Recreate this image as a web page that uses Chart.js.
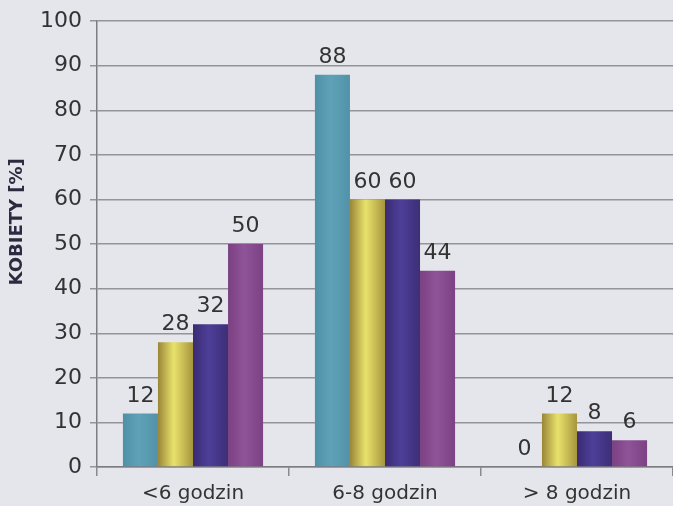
<!DOCTYPE html>
<html>
<head>
<meta charset="utf-8">
<script src="https://cdn.jsdelivr.net/npm/chart.js@4/dist/chart.umd.min.js"></script>
<style>
  html, body { margin: 0; padding: 0; background: #e5e6ec; }
  #wrap { width: 673px; height: 506px; }
</style>
</head>
<body>
<div id="wrap"><canvas id="c" width="673" height="506"></canvas></div>
<script>
// Sleep duration groups and the share of women in each group, per series
const categories = ['<6 godzin', '6-8 godzin', '> 8 godzin'];
const seriesA = [12, 88, 0];
const seriesB = [28, 60, 12];
const seriesC = [32, 60, 8];
const seriesD = [50, 44, 6];
const yTicks = [0, 10, 20, 30, 40, 50, 60, 70, 80, 90, 100];
const yTitle = 'KOBIETY [%]';

// Colour stops across each bar: edge, centre, edge
const barShades = [
  ['#4f90a6', '#5fa2b7', '#5192a8'],
  ['#9a8636', '#e8e26c', '#a8953c'],
  ['#3a2b72', '#4d3f98', '#3d2e76'],
  ['#7a4082', '#8f5397', '#7c4284']
];

const FONT = '"DejaVu Sans", Verdana, sans-serif';

const canvasBg = {
  id: 'canvasBg',
  beforeDraw(chart) {
    const ctx = chart.ctx;
    ctx.save();
    ctx.fillStyle = '#e5e6ec';
    ctx.fillRect(0, 0, chart.width, chart.height);
    ctx.restore();
  }
};

// Horizontal shading on every bar, built once bar geometry is known
const barGradients = {
  id: 'barGradients',
  beforeDatasetsDraw(chart) {
    const ctx = chart.ctx;
    chart.data.datasets.forEach((ds, i) => {
      const shades = barShades[i];
      chart.getDatasetMeta(i).data.forEach(bar => {
        const x0 = bar.x - bar.width / 2, x1 = bar.x + bar.width / 2;
        const g = ctx.createLinearGradient(x0, 0, x1, 0);
        g.addColorStop(0, shades[0]);
        g.addColorStop(0.45, shades[1]);
        g.addColorStop(1, shades[2]);
        bar.options = Object.assign({}, bar.options, { backgroundColor: g });
      });
    });
  }
};

const valueLabels = {
  id: 'valueLabels',
  afterDatasetsDraw(chart) {
    const ctx = chart.ctx;
    ctx.save();
    ctx.font = '22px ' + FONT;
    ctx.fillStyle = '#333333';
    ctx.textAlign = 'center';
    ctx.textBaseline = 'alphabetic';
    chart.data.datasets.forEach((ds, i) => {
      chart.getDatasetMeta(i).data.forEach((bar, j) => {
        ctx.fillText(String(ds.data[j]), bar.x, bar.y - 12);
      });
    });
    ctx.restore();
  }
};

// Vertical axis title, set a little above the middle of the plot
const axisTitle = {
  id: 'axisTitle',
  afterDraw(chart) {
    const ctx = chart.ctx;
    const area = chart.chartArea;
    ctx.save();
    ctx.translate(17, area.top + (area.bottom - area.top) * 0.45);
    ctx.rotate(-Math.PI / 2);
    ctx.font = 'bold 18px ' + FONT;
    ctx.fillStyle = '#2b2b40';
    ctx.textAlign = 'center';
    ctx.textBaseline = 'middle';
    ctx.fillText(yTitle, 0, 0);
    ctx.restore();
  }
};

new Chart(document.getElementById('c'), {
  type: 'bar',
  data: {
    labels: categories,
    datasets: [seriesA, seriesB, seriesC, seriesD].map((values, i) => ({
      label: String.fromCharCode(65 + i),
      data: values,
      backgroundColor: () => barShades[i][1]
    }))
  },
  options: {
    responsive: false,
    animation: false,
    devicePixelRatio: 1,
    layout: { padding: { top: 18, right: 0, left: 0, bottom: 0 } },
    datasets: { bar: { categoryPercentage: 0.73, barPercentage: 1.0, borderWidth: 0 } },
    plugins: {
      legend: { display: false },
      tooltip: { enabled: false }
    },
    scales: {
      x: {
        afterFit(scale) { scale.height = 39; },
        grid: {
          display: true,
          offset: true,
          drawOnChartArea: false,
          drawTicks: true,
          tickLength: 9,
          color: '#8a8a8e',
          lineWidth: 1.5
        },
        border: { display: true, color: '#7c7c82', width: 1.5 },
        ticks: {
          color: '#333333',
          padding: 6,
          font: { family: FONT, size: 20 }
        }
      },
      y: {
        min: 0,
        max: 100,
        afterFit(scale) { scale.width = 97; },
        afterBuildTicks(scale) { scale.ticks = yTicks.map(v => ({ value: v })); },
        grid: {
          color: '#939399',
          lineWidth: 1.5,
          drawTicks: true,
          tickLength: 7
        },
        border: { display: true, color: '#7c7c82', width: 1.5 },
        ticks: {
          color: '#333333',
          padding: 8,
          font: { family: FONT, size: 22 }
        }
      }
    }
  },
  plugins: [canvasBg, barGradients, valueLabels, axisTitle]
});
</script>
</body>
</html>
